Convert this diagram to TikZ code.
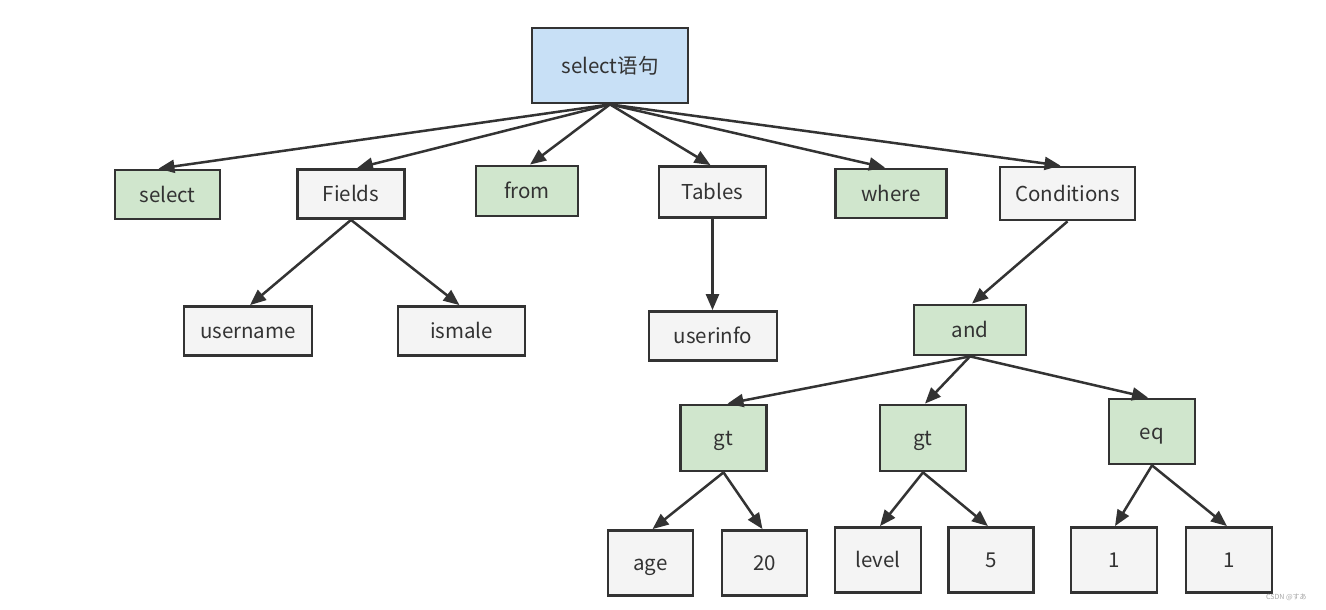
\documentclass[tikz,border=0pt]{standalone}
\usepackage{fontspec}
\setmainfont{Noto Sans CJK SC}
\newfontfamily\jpfont{Noto Sans CJK JP}
\usetikzlibrary{arrows.meta}
\definecolor{edge}{HTML}{333333}
\definecolor{txt}{HTML}{333333}
\definecolor{rootfill}{HTML}{C8E0F6}
\definecolor{kwfill}{HTML}{D0E6CD}
\definecolor{valfill}{HTML}{F4F4F4}
\tikzset{
  box/.style={draw=edge, line width=2.8pt, text=txt, font=\fontsize{20.5}{24}\selectfont, inner sep=0pt, text height=20pt, text depth=4.5pt},
  rootbox/.style={box, fill=rootfill},
  kwbox/.style={box, fill=kwfill},
  valbox/.style={box, fill=valfill},
  link/.style={draw=edge, line width=2.5pt, -{Triangle[length=16pt,width=13pt]}, shorten <=0pt},
}
\begin{document}
\begin{tikzpicture}[x=1pt,y=-1pt]
\useasboundingbox (0,0) rectangle (1326,610);
\fill[white] (0,0) rectangle (1326,610);
% root
\node[rootbox, minimum width=156pt, minimum height=75pt] (root) at (610,65.5) {select语句};
% row 1
\node[kwbox, minimum width=105pt, minimum height=49pt] (sel) at (167.5,194.5) {select};
\node[valbox, minimum width=107pt, minimum height=49pt] (fields) at (351,194) {Fields};
\node[kwbox, minimum width=102pt, minimum height=50pt] (from) at (527,191) {from};
\node[valbox, minimum width=107pt, minimum height=51pt] (tables) at (712.5,192) {Tables};
\node[kwbox, minimum width=111pt, minimum height=49pt] (where) at (891,193.5) {where};
\node[valbox, minimum width=135pt, minimum height=53pt] (cond) at (1067.5,193.5) {Conditions};
% row 2
\node[valbox, minimum width=128pt, minimum height=49pt] (user) at (248,331) {username};
\node[valbox, minimum width=127pt, minimum height=49pt] (ismale) at (461.5,331) {ismale};
\node[valbox, minimum width=128pt, minimum height=49pt] (userinfo) at (713,336) {userinfo};
\node[kwbox, minimum width=112pt, minimum height=50pt] (and) at (970,330) {and};
% row 3
\node[kwbox, minimum width=86pt, minimum height=66pt] (gta) at (723.5,438) {gt};
\node[kwbox, minimum width=86pt, minimum height=66pt] (gtb) at (923,438) {gt};
\node[kwbox, minimum width=86pt, minimum height=65pt] (eq) at (1152,431.5) {eq};
% row 4
\node[valbox, minimum width=85pt, minimum height=65pt] (age) at (650.5,563) {age};
\node[valbox, minimum width=85pt, minimum height=65pt] (twenty) at (764.5,563) {20};
\node[valbox, minimum width=86pt, minimum height=65pt] (level) at (878,560) {level};
\node[valbox, minimum width=85pt, minimum height=65pt] (five) at (991,560) {5};
\node[valbox, minimum width=86pt, minimum height=65pt] (onea) at (1114,560) {1};
\node[valbox, minimum width=86pt, minimum height=65pt] (oneb) at (1229,560) {1};
% edges
\draw[link] (root.south) -- ([xshift=-9pt]sel.north);
\draw[link] (root.south) -- ([xshift=6pt]fields.north);
\draw[link] (root.south) -- ([xshift=3pt]from.north);
\draw[link] (root.south) -- ([xshift=-2pt]tables.north);
\draw[link] (root.south) -- ([xshift=-6pt]where.north);
\draw[link] (root.south) -- ([xshift=-7pt]cond.north);
\draw[link] (fields.south) -- ([xshift=2pt]user.north);
\draw[link] (fields.south) -- ([xshift=-2pt]ismale.north);
\draw[link] (tables.south) -- (tables.south |- userinfo.north);
\draw[link] (cond.south) -- ([xshift=2pt]and.north);
\draw[link] (and.south) -- ([xshift=4pt]gta.north);
\draw[link] (and.south) -- ([xshift=2pt]gtb.north);
\draw[link] (and.south) -- ([xshift=-4pt]eq.north);
\draw[link] (gta.south) -- ([xshift=2pt]age.north);
\draw[link] (gta.south) -- ([xshift=-2pt]twenty.north);
\draw[link] (gtb.south) -- ([xshift=2pt]level.north);
\draw[link] (gtb.south) -- ([xshift=-3pt]five.north);
\draw[link] (eq.south) -- ([xshift=1pt]onea.north);
\draw[link] (eq.south) -- ([xshift=-2pt]oneb.north);
% watermark
\node[anchor=west, text=gray!70, font=\jpfont\fontsize{7}{8}\selectfont, inner sep=0pt] (wm) at (1266,597) {CSDN @すあ};
\end{tikzpicture}
\end{document}
